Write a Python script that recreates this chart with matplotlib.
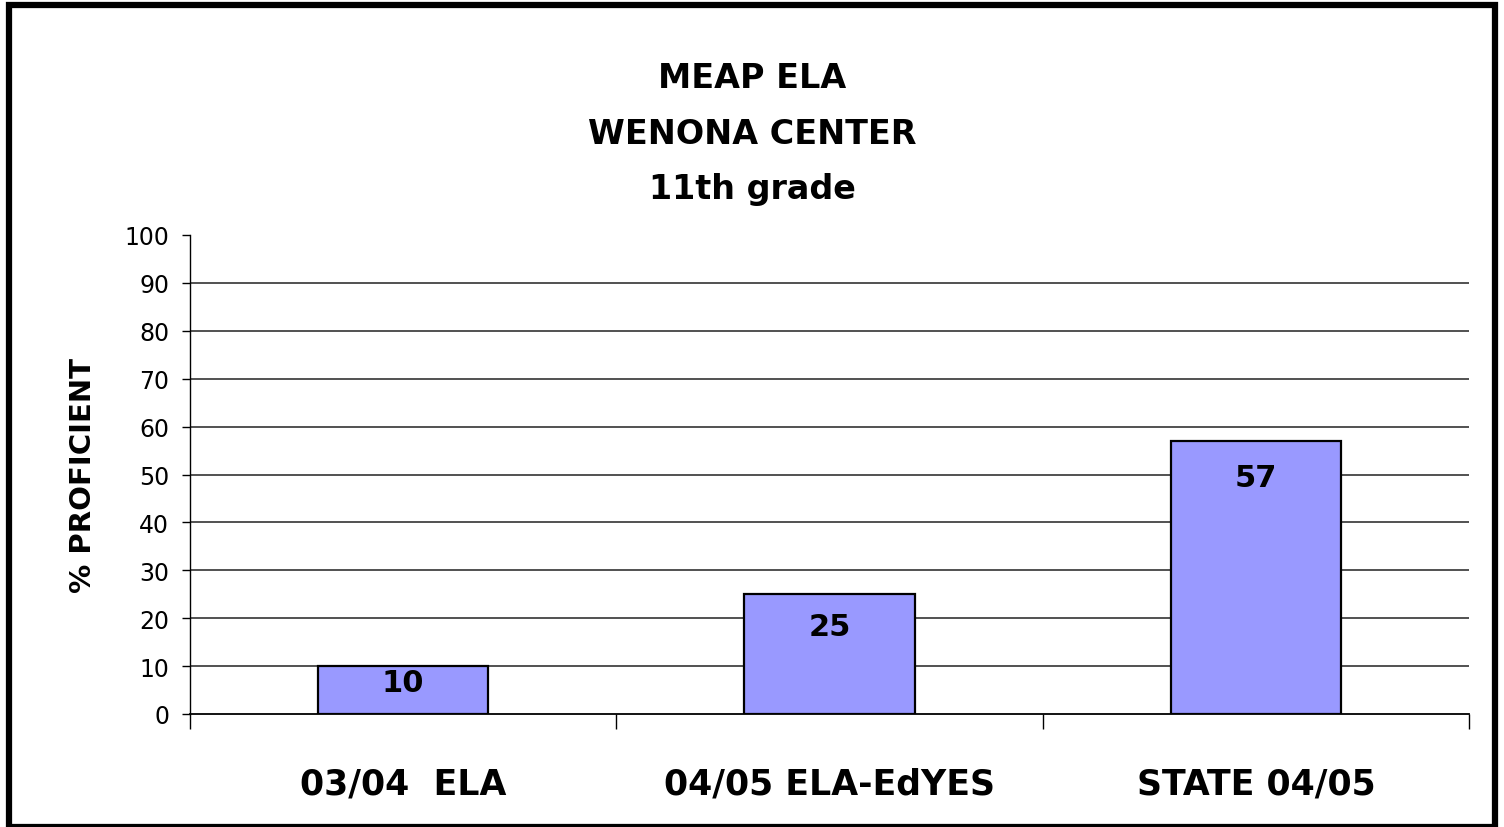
#!/usr/bin/env python3
import matplotlib
matplotlib.use('Agg')
import matplotlib.pyplot as plt
from matplotlib.patches import Rectangle

# data
categories = ['03/04  ELA', '04/05 ELA-EdYES', 'STATE 04/05']
proficient = [10, 25, 57]
title_lines = ['MEAP ELA', 'WENONA CENTER', '11th grade']

fig = plt.figure(figsize=(15.04, 8.28), dpi=100)
ax = fig.add_axes([190/1504, 1 - 715/828, 1279/1504, 479/828])

pos = [i + 0.5 for i in range(len(categories))]
bars = ax.bar(pos, proficient, width=0.4, color='#9999FF', edgecolor='black', linewidth=1.6, zorder=3)

# label offsets below bar tops (points), short bar gets its label nearer the top
label_drop = [-12, -23, -26]
for b, v, d in zip(bars, proficient, label_drop):
    ax.annotate(str(v), (b.get_x() + b.get_width() / 2, v), xytext=(0, d),
                textcoords='offset points', ha='center', va='center',
                fontsize=22, fontweight='bold', zorder=4)

ax.set_xlim(0, len(categories))
ax.set_ylim(0, 100)
ax.set_yticks(range(0, 101, 10))
ax.tick_params(axis='y', labelsize=17, length=6, width=1, pad=9)
for y in range(10, 100, 10):
    ax.axhline(y, color='#222222', linewidth=1.1, zorder=1)

ax.set_xticks(range(len(categories) + 1))
ax.set_xticklabels([])
ax.set_xticks(pos, minor=True)
ax.set_xticklabels(categories, minor=True, fontsize=25, fontweight='bold')
ax.tick_params(axis='x', which='major', length=11, width=1)
ax.tick_params(axis='x', which='minor', length=0, pad=38)

for s in ['top', 'right']:
    ax.spines[s].set_visible(False)
ax.spines['left'].set_linewidth(1)
ax.spines['bottom'].set_linewidth(1.3)

ax.set_ylabel('% PROFICIENT', fontsize=21, fontweight='bold', labelpad=20)

for i, line in enumerate(title_lines):
    fig.text(752/1504, 1 - (78 + 56 * i)/828, line, ha='center', va='center',
             fontsize=24, fontweight='bold')

fig.patches.append(Rectangle((9/1504, 0), 1486/1504, 1 - 6/828, transform=fig.transFigure,
                             fill=False, edgecolor='black', linewidth=4.5))

plt.savefig('out.png', dpi=100)
